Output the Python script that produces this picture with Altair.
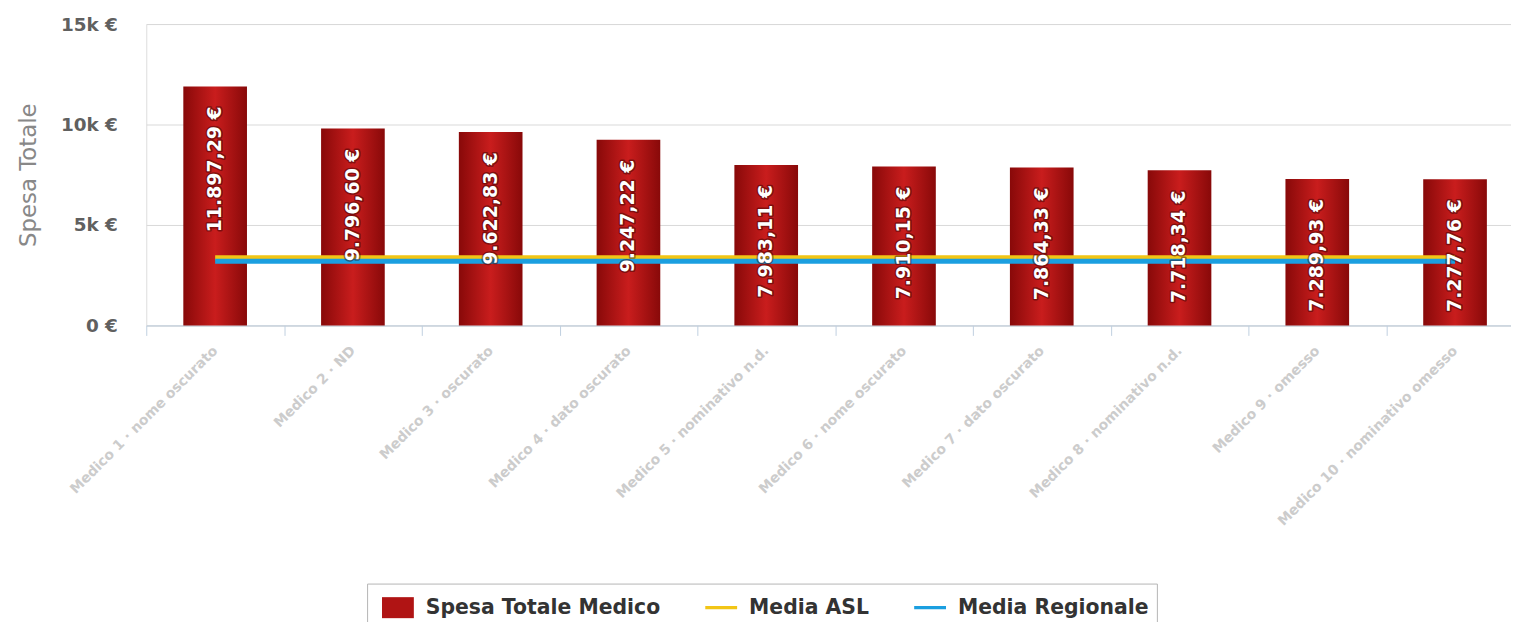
import altair as alt
import pandas as pd

# ---- data ----
medici = [
    "Medico 1 · nome oscurato",
    "Medico 2 · ND",
    "Medico 3 · oscurato",
    "Medico 4 · dato oscurato",
    "Medico 5 · nominativo n.d.",
    "Medico 6 · nome oscurato",
    "Medico 7 · dato oscurato",
    "Medico 8 · nominativo n.d.",
    "Medico 9 · omesso",
    "Medico 10 · nominativo omesso",
]
spesa = [11897.29, 9796.60, 9622.83, 9247.22, 7983.11, 7910.15, 7864.33, 7718.34, 7289.93, 7277.76]
media_asl = 3370
media_regionale = 3200
serie = ["Spesa Totale Medico", "Media ASL", "Media Regionale"]
colori_serie = ["#b01414", "#f2c516", "#1b9fe0"]
y_ticks = [0, 5000, 10000, 15000]


def euro(v):
    s = f"{v:,.2f}"
    return s.replace(",", "X").replace(".", ",").replace("X", ".") + " €"


df = pd.DataFrame({
    "medico": medici,
    "spesa": spesa,
    "etichetta": [euro(v) for v in spesa],
    "asl": [media_asl] * len(medici),
    "regionale": [media_regionale] * len(medici),
})
leg_df = pd.DataFrame({"serie": serie, "medico": [medici[0]] * len(serie), "v": [0] * len(serie)})

FONT = "DejaVu Sans"

x_enc = alt.X(
    "medico:N",
    sort=medici,
    scale=alt.Scale(paddingInner=0, paddingOuter=0),
    axis=alt.Axis(
        title=None,
        labelAngle=315,
        labelAlign="right",
        labelBaseline="middle",
        tickBand="extent",
        ticks=True,
        tickSize=10,
        tickColor="#c0d0e0",
        domainColor="#c0d0e0",
        domainWidth=1,
        grid=False,
        labelColor="#cccccc",
        labelFont=FONT,
        labelFontWeight="bold",
        labelFontSize=14,
        labelLimit=400,
        labelPadding=13,
    ),
)

y_axis = alt.Axis(
    values=y_ticks,
    labelExpr="datum.value == 0 ? '0 €' : (datum.value / 1000) + 'k €'",
    title="Spesa Totale",
    grid=True,
    gridColor="#d9d9d9",
    domain=False,
    ticks=False,
    tickSize=0,
    labelColor="#606060",
    labelFont=FONT,
    labelFontWeight="bold",
    labelFontSize=18.5,
    labelPadding=29,
    titleFont=FONT,
    titleFontSize=23,
    titleFontWeight="normal",
    titleColor="#888888",
    titlePadding=20,
)
y_scale = alt.Scale(domain=[0, 15000], nice=False)


def y_enc(field):
    return alt.Y(field, scale=y_scale, axis=y_axis)


base = alt.Chart(df)

bar_gradient = alt.Gradient(
    gradient="linear",
    stops=[
        alt.GradientStop(color="#880909", offset=0),
        alt.GradientStop(color="#c91d1d", offset=0.5),
        alt.GradientStop(color="#880909", offset=1),
    ],
    x1=0, x2=1, y1=0, y2=0,
)

bars = base.mark_bar(width=64, color=bar_gradient).encode(x=x_enc, y=y_enc("spesa:Q"))
line_asl = base.mark_line(color=colori_serie[1], strokeWidth=5).encode(x=x_enc, y=y_enc("asl:Q"))
line_reg = base.mark_line(color=colori_serie[2], strokeWidth=5).encode(x=x_enc, y=y_enc("regionale:Q"))

text_kw = dict(angle=270, align="right", baseline="middle", dx=-20, font=FONT, fontSize=19, fontWeight="bold")
labels_outline = base.mark_text(
    color="#2a0000", stroke="#2a0000", strokeWidth=3, strokeOpacity=0.55, opacity=0.8, strokeJoin="round", **text_kw
).encode(x=x_enc, y=y_enc("spesa:Q"), text="etichetta:N")
labels = base.mark_text(color="#ffffff", **text_kw).encode(x=x_enc, y=y_enc("spesa:Q"), text="etichetta:N")

square_path = "M-1,-0.66H1V0.66H-1Z"
line_path = "M-1,-0.1H1V0.1H-1Z"
legend = alt.Legend(
    title=None,
    orient="none",
    legendX=222,
    legendY=562.5,
    direction="horizontal",
    padding=8,
    symbolOffset=7,
    strokeColor="#b4b4b4",
    fillColor="#ffffff",
    symbolSize=1024,
    symbolOpacity=1,
    symbolStrokeWidth=0,
    labelOffset=12,
    columnPadding=38,
    labelFont=FONT,
    labelFontSize=20.5,
    labelFontWeight="bold",
    labelColor="#333333",
    labelLimit=400,
)
legend_layer = alt.Chart(leg_df).mark_point(filled=True, opacity=0).encode(
    x=x_enc,
    y=y_enc("v:Q"),
    color=alt.Color("serie:N", scale=alt.Scale(domain=serie, range=colori_serie), legend=legend),
    shape=alt.Shape("serie:N", scale=alt.Scale(domain=serie, range=[square_path, line_path, line_path]), legend=legend),
)

chart = alt.layer(bars, line_asl, line_reg, labels_outline, labels, legend_layer).properties(
    width=1385,
    height=303,
    padding={"left": 139, "top": 14.5, "right": -13, "bottom": 296.5},
    autosize=alt.AutoSizeParams(type="none"),
).configure_view(stroke=None).configure(background="#ffffff")

chart.save("out.html", embed_options={"renderer": "svg", "actions": False})
